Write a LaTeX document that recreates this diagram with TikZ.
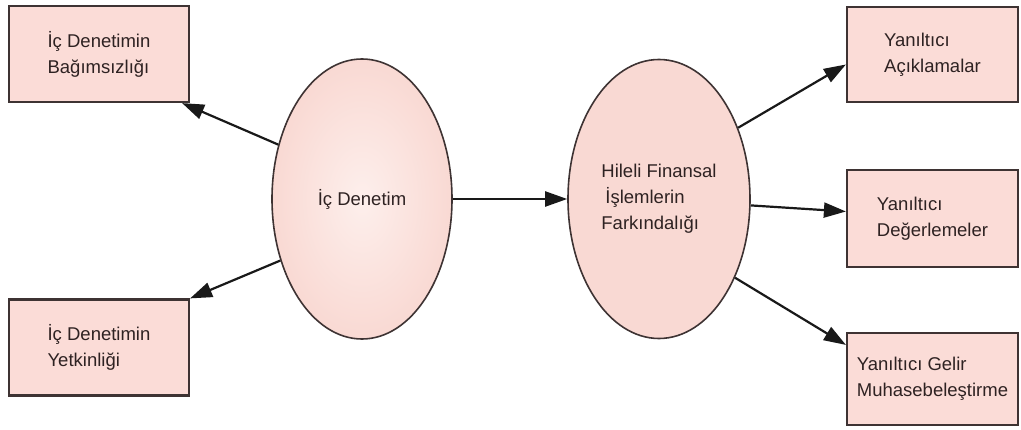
\documentclass[tikz,border=0pt]{standalone}
\usepackage{fontspec}
\setmainfont{Liberation Sans}
\usetikzlibrary{shapes.geometric,arrows.meta}
\definecolor{boxfill}{HTML}{FBDCD7}
\definecolor{ovalin}{HTML}{FDEFEC}
\definecolor{ovalout}{HTML}{F9D9D3}
\definecolor{edge}{HTML}{3E3333}
\definecolor{ink}{HTML}{2E2222}
\begin{document}
\begin{tikzpicture}[x=1pt,y=-1pt,
  every node/.style={text=ink, font=\fontsize{18.5}{26}\selectfont},
  box/.style={draw=edge, line width=2.2pt, fill=boxfill, align=left,
    minimum width=180pt, minimum height=96pt, inner sep=0pt},
  oval/.style={ellipse, draw=edge, line width=1.6pt, align=left,
    minimum width=180pt, minimum height=280pt, inner sep=0pt},
  link/.style={draw=black!90, line width=2.2pt, -{Triangle[length=22pt,width=15pt]}}]
  \useasboundingbox (0,0) rectangle (1021,430);

  % left-hand boxes
  \node[box] (b1) at (99,54) {İç Denetimin\\Bağımsızlığı};
  \node[box] (b2) at (99,347.5) {İç Denetimin\\Yetkinliği};

  % central ovals
  \node[oval, inner color=ovalin, outer color=ovalout] (e1) at (362,199) {İç Denetim};
  \node[oval, minimum width=182pt, minimum height=279pt, fill=ovalout] (e2) at (659,199)
    {Hileli Finansal\\\hspace{4pt}İşlemlerin\\Farkındalığı};

  % right-hand boxes
  \node[box, minimum width=171pt, minimum height=95pt] (ra) at (932.5,54.5) {Yanıltıcı\\Açıklamalar};
  \node[box, minimum width=171pt, minimum height=97pt] (rb) at (932.5,218.5) {Yanıltıcı\\Değerlemeler};
  \node[box, minimum width=171pt, minimum height=92pt] (rc) at (932.5,379) {Yanıltıcı Gelir\\Muhasebeleştirme};

  % connectors
  \draw[link] (e1.147) -- ([xshift=-8pt]b1.south east);
  \draw[link] (e1.-143) -- (b2.north east);
  \draw[link] (e1.east) -- (e2.west);
  \draw[link] (e2.42) -- ([yshift=-10pt]ra.west);
  \draw[link] (e2.-4) -- ([yshift=7pt]rb.west);
  \draw[link] (e2.-46) -- ([yshift=-13pt]rc.north west);
\end{tikzpicture}
\end{document}
